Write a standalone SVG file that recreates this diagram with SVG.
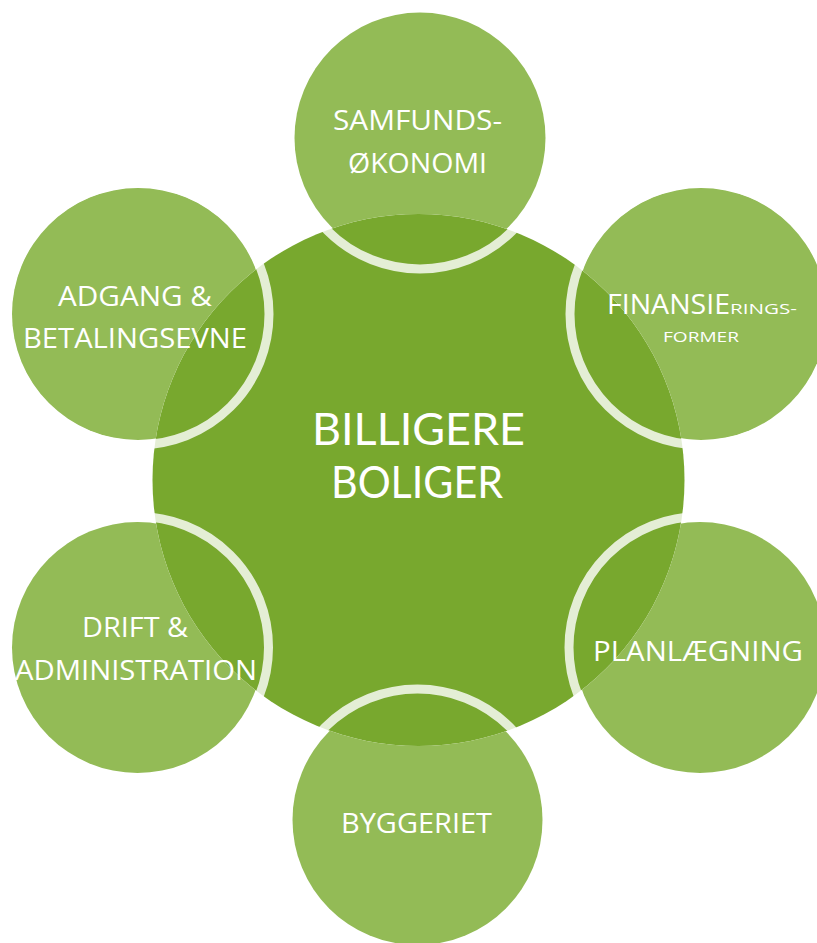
<svg xmlns="http://www.w3.org/2000/svg" width="817" height="943" viewBox="0 0 817 943">
  <style>
    .sat { fill: #93bb56; }
    .ring { fill: none; stroke: #ffffff; stroke-opacity: 0.8; stroke-width: 9; }
    .core { fill: #78a82e; }
    .lbl { font-family: "Open Sans", "Noto Sans", "Liberation Sans", sans-serif; fill: #ffffff; font-size: 28px; text-anchor: middle; }
    .big { font-family: Lato, "Open Sans", "Liberation Sans", sans-serif; font-size: 44px; }
    .sm { font-size: 14px; }
  </style>
  <defs>
    <mask id="outside" maskUnits="userSpaceOnUse" x="0" y="0" width="817" height="943">
      <rect x="0" y="0" width="817" height="943" fill="#ffffff"/>
      <circle cx="418.5" cy="480" r="266" fill="#000000"/>
    </mask>
  </defs>
  <rect x="0" y="0" width="817" height="943" fill="#ffffff"/>

  <g id="center">
    <circle class="core" cx="418.5" cy="480" r="266"/>
    <text class="lbl big"><tspan x="418.5" y="445" textLength="213" lengthAdjust="spacingAndGlyphs">BILLIGERE</tspan><tspan x="417" y="498" textLength="172" lengthAdjust="spacingAndGlyphs">BOLIGER</tspan></text>
  </g>

  <g id="connectors"></g>

  <g id="samfundsokonomi">
    <circle class="sat" cx="420" cy="138" r="125.5" mask="url(#outside)"/>
    <circle class="ring" cx="420" cy="138" r="131"/>
    <text class="lbl"><tspan x="417.5" y="130" textLength="169" lengthAdjust="spacingAndGlyphs">SAMFUNDS-</tspan><tspan x="417.5" y="173" textLength="139" lengthAdjust="spacingAndGlyphs">ØKONOMI</tspan></text>
  </g>

  <g id="finansieringsformer">
    <circle class="sat" cx="701" cy="314" r="126" mask="url(#outside)"/>
    <circle class="ring" cx="701" cy="314" r="131"/>
    <text class="lbl" style="text-anchor:start"><tspan x="607" y="314" textLength="123" lengthAdjust="spacingAndGlyphs">FINANSIE</tspan><tspan class="sm" x="730" y="314" textLength="67" lengthAdjust="spacingAndGlyphs">RINGS-</tspan><tspan class="sm" x="663" y="342" textLength="76" lengthAdjust="spacingAndGlyphs">FORMER</tspan></text>
  </g>

  <g id="planlaegning">
    <circle class="sat" cx="700" cy="647.5" r="125.5" mask="url(#outside)"/>
    <circle class="ring" cx="700" cy="647.5" r="131"/>
    <text class="lbl"><tspan x="698" y="661" textLength="210" lengthAdjust="spacingAndGlyphs">PLANLÆGNING</tspan></text>
  </g>

  <g id="byggeriet">
    <circle class="sat" cx="417.5" cy="820" r="125" mask="url(#outside)"/>
    <circle class="ring" cx="417.5" cy="820" r="131"/>
    <text class="lbl"><tspan x="416.5" y="833" textLength="151" lengthAdjust="spacingAndGlyphs">BYGGERIET</tspan></text>
  </g>

  <g id="drift-administration">
    <circle class="sat" cx="137.5" cy="647.5" r="125.5" mask="url(#outside)"/>
    <circle class="ring" cx="137.5" cy="647.5" r="131"/>
    <text class="lbl"><tspan x="135" y="637" textLength="106" lengthAdjust="spacingAndGlyphs">DRIFT &amp;</tspan><tspan x="136" y="680" textLength="242" lengthAdjust="spacingAndGlyphs">ADMINISTRATION</tspan></text>
  </g>

  <g id="adgang-betalingsevne">
    <circle class="sat" cx="138" cy="314" r="126" mask="url(#outside)"/>
    <circle class="ring" cx="138" cy="314" r="131"/>
    <text class="lbl"><tspan x="135" y="306" textLength="154" lengthAdjust="spacingAndGlyphs">ADGANG &amp;</tspan><tspan x="135" y="348" textLength="224" lengthAdjust="spacingAndGlyphs">BETALINGSEVNE</tspan></text>
  </g>
</svg>
